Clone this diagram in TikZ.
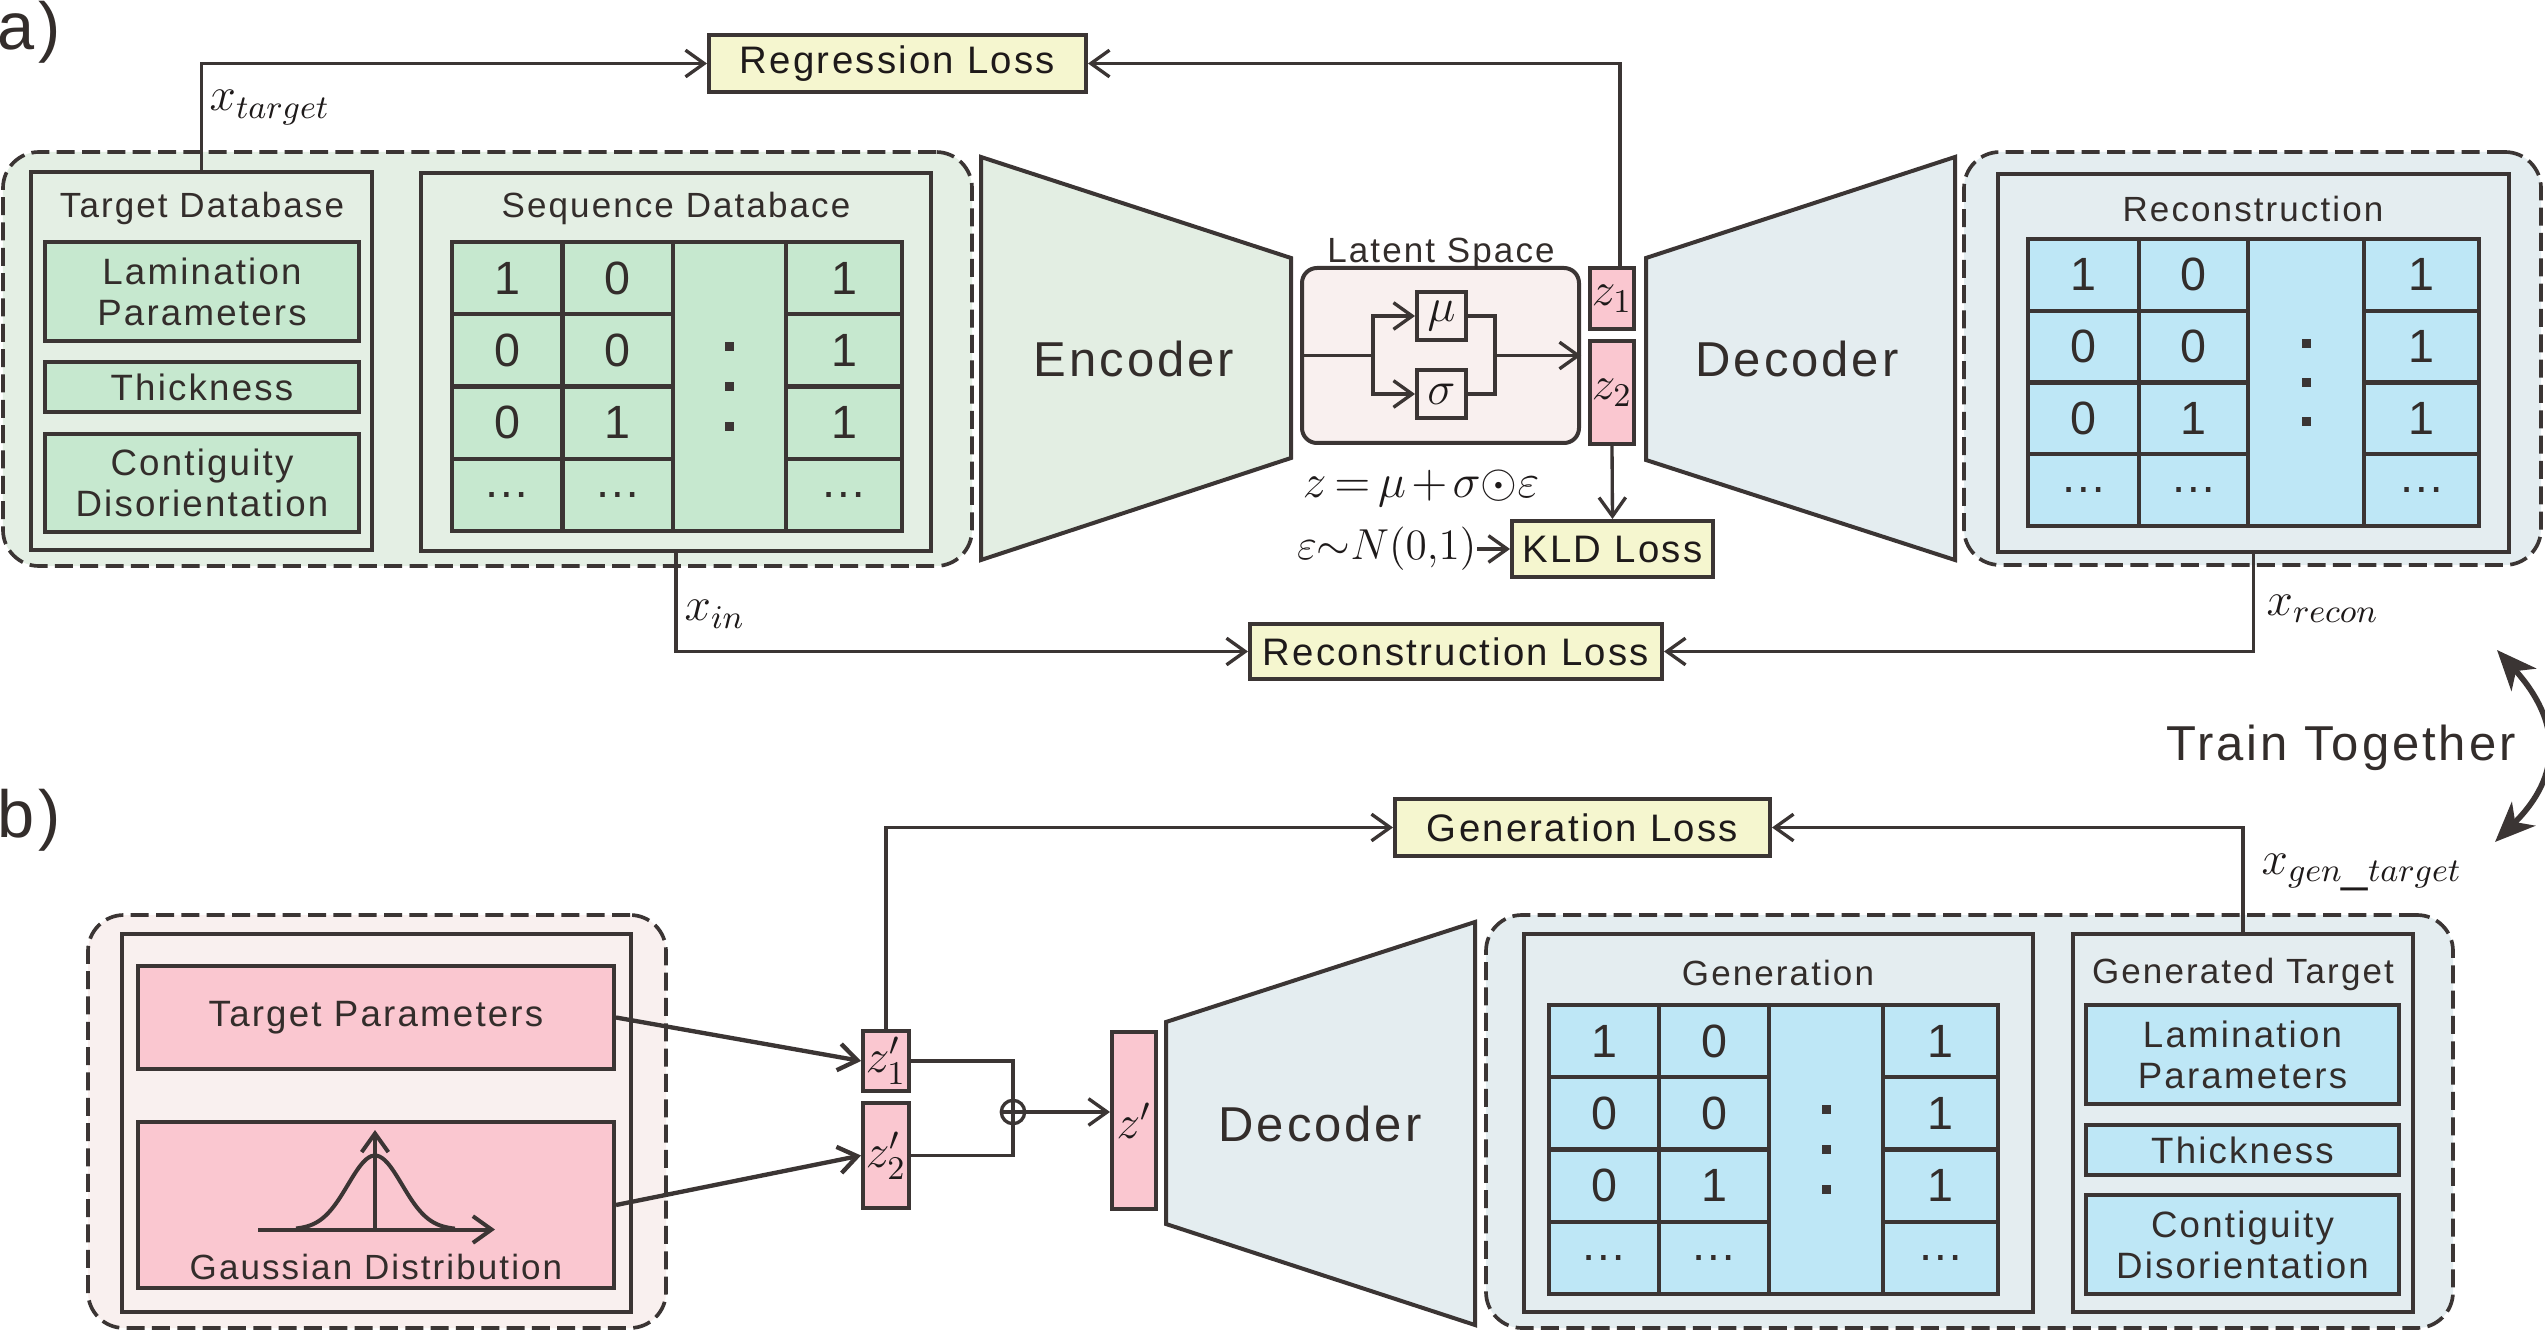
\RequirePackage{fix-cm}
\documentclass[tikz,border=0pt]{standalone}
\usepackage[no-math]{fontspec}
\setmainfont{Liberation Sans}[LetterSpace=6]
\newfontfamily\digitfont{Liberation Sans}
\usetikzlibrary{arrows.meta,calc}
\definecolor{lc}{HTML}{3B3534}
\definecolor{tc}{HTML}{332D2B}
\definecolor{mc}{HTML}{1E1A1A}
\definecolor{gbg}{HTML}{E4EFE4}
\definecolor{gcell}{HTML}{C6E8CF}
\definecolor{encf}{HTML}{E3EEE3}
\definecolor{bbg}{HTML}{E4EDF0}
\definecolor{bcell}{HTML}{BEE7F6}
\definecolor{pbg}{HTML}{F9F0EF}
\definecolor{pbox}{HTML}{FAC7D0}
\definecolor{ylw}{HTML}{F5F6CF}
\tikzset{
  box/.style={draw=lc, line width=1.2pt, inner sep=0pt},
  dashbox/.style={draw=lc, line width=1.1pt, dash pattern=on 5.4pt off 2.2pt, rounded corners=10.8pt},
  conn/.style={draw=lc, line width=1pt, -{Straight Barb[length=5.6pt,width=8pt]}},
  plainline/.style={draw=lc, line width=1pt},
  gl/.style={draw=lc, line width=1.3pt},
  cell/.style={inner sep=0pt, text=tc, font=\digitfont\fontsize{14}{16}\selectfont},
  title/.style={inner sep=0pt, text=tc, anchor=base, font=\fontsize{10.5}{12.6}\selectfont},
  btxt/.style={text=tc, align=center, font=\fontsize{11}{12.3}\selectfont},
  losstxt/.style={text=mc, font=\fontsize{11.5}{13.5}\selectfont},
  big/.style={inner sep=0pt, text=tc, anchor=base, font=\fontsize{14.7}{17}\selectfont},
  mth/.style={inner sep=0pt, text=mc, font=\fontsize{14.2}{17}\selectfont},
  mths/.style={inner sep=0pt, text=mc, font=\fontsize{13}{16}\selectfont},
  panel/.style={inner sep=0pt, text=tc, anchor=west, font=\fontsize{20}{24}\selectfont}
}
\newcommand\rbox[7][]{\node[box,#1,minimum width={(#5-#3)*0.3pt},minimum height={(#6-#4)*0.3pt}] (#2) at ({(#3+#5)/2},{(#4+#6)/2}) {#7};}
\newcommand\seqgrid[9]{%
  \fill[#2] (#3,#8) rectangle (#7,#9);
  \foreach \r/\a/\b/\c in {1/1/0/1,2/0/0/1,3/0/1/1,4/…/…/…}{%
    \pgfmathsetmacro\yc{#8+(\r-0.5)*(#9-#8)/4}
    \node[cell] (#1a\r) at ({(#3+#4)/2},\yc) {\a};
    \node[cell] (#1b\r) at ({(#4+#5)/2},\yc) {\b};
    \node[cell] (#1c\r) at ({(#6+#7)/2},\yc) {\c};
  }
  \draw[gl] (#3,#8) rectangle (#7,#9);
  \draw[gl] (#4,#8) -- (#4,#9) (#5,#8) -- (#5,#9) (#6,#8) -- (#6,#9);
  \foreach \r in {1,2,3}{%
    \pgfmathsetmacro\yr{#8+\r*(#9-#8)/4}
    \draw[gl] (#3,\yr) -- (#5,\yr) (#6,\yr) -- (#7,\yr);
  }
  \foreach \k in {-1,0,1}{%
    \pgfmathsetmacro\yd{(#8+#9)/2+\k*0.137*(#9-#8)}
    \fill[lc] ({(#5+#6)/2-4.5},{\yd-4.5}) rectangle ++(9,9);
  }
}
\begin{document}
\begin{tikzpicture}[x=0.3pt,y=-0.3pt]
\useasboundingbox (0,0) rectangle (2545,1332);
\fill[white] (0,0) rectangle (2545,1332);

% panel labels
\node[panel] (la) at (-3,32) {a)};
\node[panel] (lb) at (-3,820) {b)};

% ---------- a) left: databases
\rbox[dashbox, fill=gbg]{adash}{3}{152}{972}{566}{}
\rbox[fill=gbg]{td}{31}{172}{372}{550}{}
\node[title] (tdt) at (202,218) {Target Database};
\rbox[fill=gcell, btxt]{tdl}{45}{242}{359}{341}{Lamination\\Parameters}
\rbox[fill=gcell, btxt]{tdth}{45}{362}{359}{412}{Thickness}
\rbox[fill=gcell, btxt]{tdc}{45}{434}{359}{532}{Contiguity\\Disorientation}
\rbox[fill=gbg]{sd}{421}{173}{931}{551}{}
\node[title] (sdt) at (676,218) {Sequence Databace};
\seqgrid{sq}{gcell}{452}{562.5}{673}{786}{902}{242}{531}

% ---------- encoder
\draw[box, fill=encf] (981,157) -- (1291,258) -- (1291,458) -- (981,560) -- cycle;
\node[big] (enc) at (1134,377) {Encoder};

% ---------- latent space
\rbox[fill=pbg, rounded corners=4.5pt]{ls}{1302}{268}{1579}{443}{}
\node[title] (lst) at (1441,263) {Latent Space};
\rbox[fill=pbg, mth]{mu}{1417}{292}{1466}{340}{$\mu$}
\rbox[fill=pbg, mth]{sig}{1417}{370}{1466}{418}{$\sigma$}
\coordinate (split) at (1373,355.5);
\coordinate (join) at (1495,355.5);
\draw[plainline] (ls.west) -- (split);
\draw[conn] (split) |- (mu.west);
\draw[conn] (split) |- (sig.west);
\draw[plainline] (mu.east) -| (join);
\draw[plainline] (sig.east) -| (join);
\draw[conn] (join) -- (ls.east);
\rbox[fill=pbox, mth]{z1}{1590}{268}{1634}{329}{$z_1$}
\rbox[fill=pbox, mth]{z2}{1590}{341}{1634}{444}{$z_2$}
\node[mth, anchor=base] (zf) at (1421,498) {$\thickmuskip=3mu\medmuskip=2mu z=\mu+\sigma\mathord{\odot}\varepsilon$};
\node[mths, anchor=east] (eps) at (1477,549) {$\varepsilon\mathord{\sim}N(0{,}1)$};

% ---------- decoder a
\draw[box, fill=bbg] (1646,258) -- (1955,157) -- (1955,560) -- (1646,460) -- cycle;
\node[big] (deca) at (1797,377) {Decoder};

% ---------- reconstruction
\rbox[dashbox, fill=bbg]{rdash}{1964}{152}{2541}{565}{}
\rbox[fill=bbg]{rec}{1998}{174}{2509}{552}{}
\node[title] (rect) at (2253,222) {Reconstruction};
\seqgrid{rc}{bcell}{2028}{2139}{2248}{2364}{2479}{239}{526}

% ---------- losses a
\rbox[fill=ylw, losstxt]{reg}{709}{35}{1086}{92}{Regression Loss}
\rbox[fill=ylw, losstxt]{kld}{1512}{521}{1713}{577}{KLD Loss}
\rbox[fill=ylw, losstxt]{rl}{1250}{624}{1662}{679}{Reconstruction Loss}

\coordinate (z1top) at (1620,268);
\draw[conn] (td.north) |- (reg.west);
\draw[conn] (z1top) |- (reg.east);
\draw[conn] (z2.south) -- (kld.north);
\draw[conn] (eps.east) -- (kld.west);
\draw[conn] (sd.south) |- (rl.west);
\draw[conn] (rec.south) |- (rl.east);

\node[mth, anchor=base west] (xt) at (209,111) {$x_{target}$};
\node[mth, anchor=base west] (xi) at (684,621) {$x_{in}$};
\node[mth, anchor=base west] (xr) at (2266,615) {$x_{recon}$};
\node[mth, anchor=base west] (xg) at (2261,874) {$x_{gen\_target}$};

% ---------- train together
\node[big] (tt) at (2341,760) {Train Together};
\coordinate (tt1) at (2497,650);
\coordinate (tt2) at (2495,842);
\draw[lc, line width=1.7pt, {Stealth[length=12pt,width=10pt,inset=3.5pt]}-{Stealth[length=12pt,width=10pt,inset=3.5pt]}] (tt1) .. controls (2562,722) and (2562,776) .. (tt2);

% ---------- b) left: inputs
\rbox[dashbox, fill=pbg]{bdash}{88}{915}{666}{1328}{}
\rbox[fill=pbg]{inp}{122}{934}{631}{1312}{}
\rbox[fill=pbox, btxt]{tp}{138}{966}{614}{1069}{Target Parameters}
\rbox[fill=pbox]{gs}{138}{1122}{614}{1288}{}
\node[title] (gst) at (376,1279) {Gaussian Distribution};
\coordinate (ax0) at (258,1229.5);
\coordinate (ax1) at (495,1229.5);
\coordinate (ay0) at (375,1229.5);
\coordinate (ay1) at (375,1130);
\draw[lc, line width=1.2pt, -{Straight Barb[length=5.6pt,width=8pt]}] (ax0) -- (ax1);
\draw[lc, line width=1.2pt, -{Straight Barb[length=5.6pt,width=8pt]}] (ay0) -- (ay1);
\draw[lc, line width=1.2pt] plot[domain=296:455, samples=60, smooth] (\x,{1229.5-74*exp(-((\x-375)/27)^2/2)});

\rbox[fill=pbox, mth]{z1p}{863}{1031}{909}{1091}{$z'_1$}
\rbox[fill=pbox, mth]{z2p}{863}{1103}{909}{1208}{$z'_2$}
\draw[lc, line width=1.3pt, -{Straight Barb[length=5.6pt,width=8pt]}] (tp.east) -- (z1p.west);
\draw[lc, line width=1.3pt, -{Straight Barb[length=5.6pt,width=8pt]}] (gs.east) -- (z2p.west);
\node[draw=lc, line width=1pt, circle, minimum size=7pt, inner sep=0pt] (op) at (1013,1112) {};
\coordinate (jt) at (1013,1061);
\coordinate (jb) at (1013,1155.5);
\draw[plainline] (z1p.east) -- (jt) -- (jb) -- (z2p.east);
\rbox[fill=pbox, mth]{zp}{1112}{1032}{1156}{1209}{$z'$}
\draw[plainline] (op.west) -- (op.east);
\draw[conn] (op.east) -- (zp.west |- op.east);

% ---------- decoder b
\draw[box, fill=bbg] (1166,1022) -- (1475,922) -- (1475,1325) -- (1166,1224) -- cycle;
\node[big] (decb) at (1320,1141) {Decoder};

% ---------- generation panel
\rbox[dashbox, fill=bbg]{gdash}{1486}{915}{2453}{1328}{}
\rbox[fill=bbg]{gen}{1524}{934}{2033}{1312}{}
\node[title] (gent) at (1778,985) {Generation};
\seqgrid{gn}{bcell}{1549}{1659}{1769}{1883}{1998}{1005}{1294}
\rbox[fill=bbg]{gt}{2073}{934}{2413}{1312}{}
\node[title] (gtt) at (2243,983) {Generated Target};
\rbox[fill=bcell, btxt]{gtl}{2086}{1005}{2399}{1104}{Lamination\\Parameters}
\rbox[fill=bcell, btxt]{gtth}{2086}{1125}{2399}{1175}{Thickness}
\rbox[fill=bcell, btxt]{gtc}{2086}{1195}{2399}{1294}{Contiguity\\Disorientation}

% ---------- generation loss
\rbox[fill=ylw, losstxt]{gl}{1395}{799}{1770}{856}{Generation Loss}
\draw[conn] (z1p.north) |- (gl.west);
\draw[conn] (gt.north) |- (gl.east);
\end{tikzpicture}
\end{document}
